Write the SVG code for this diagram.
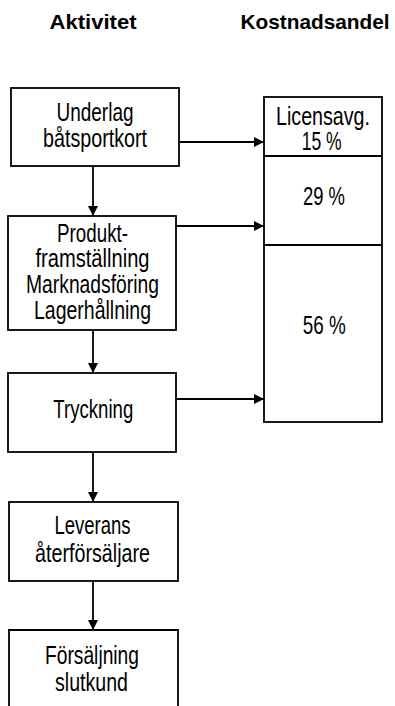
<svg xmlns="http://www.w3.org/2000/svg" width="395" height="706" viewBox="0 0 395 706">
  <defs>
    <marker id="arrow" viewBox="0 0 10 10" refX="10" refY="5" markerWidth="10" markerHeight="10" markerUnits="userSpaceOnUse" orient="auto">
      <path d="M0,0 L10,5 L0,10 Z" fill="#000"/>
    </marker>
    <style>
      .box { fill: #fff; stroke: #000; stroke-width: 1.8; }
      .t { font-family: "Liberation Sans Narrow", "Liberation Sans", Arial, sans-serif; font-size: 25px; fill: #000; text-anchor: middle; }
      .h { font-weight: bold; font-size: 21px; }
      .link { fill: none; stroke: #000; stroke-width: 1.8; marker-end: url(#arrow); }
    </style>
  </defs>

  <rect width="395" height="706" fill="#fff"/>

  <!-- column headings -->
  <g id="headings">
    <text class="t h" x="93" y="29" textLength="87" lengthAdjust="spacingAndGlyphs">Aktivitet</text>
    <text class="t h" x="315" y="29" textLength="149" lengthAdjust="spacingAndGlyphs">Kostnadsandel</text>
  </g>

  <!-- activity chain -->
  <g id="underlag">
    <rect class="box" x="11" y="88" width="168" height="78"/>
    <text class="t" x="95" y="120.5" textLength="77" lengthAdjust="spacingAndGlyphs">Underlag</text>
    <text class="t" x="95" y="146.5" textLength="104" lengthAdjust="spacingAndGlyphs">båtsportkort</text>
  </g>

  <g id="produkt">
    <rect class="box" x="8" y="216" width="168" height="114"/>
    <text class="t" x="92.5" y="241.5" textLength="71" lengthAdjust="spacingAndGlyphs">Produkt-</text>
    <text class="t" x="92.5" y="267" textLength="114" lengthAdjust="spacingAndGlyphs">framställning</text>
    <text class="t" x="92.5" y="293" textLength="133" lengthAdjust="spacingAndGlyphs">Marknadsföring</text>
    <text class="t" x="92.5" y="319" textLength="117" lengthAdjust="spacingAndGlyphs">Lagerhållning</text>
  </g>

  <g id="tryckning">
    <rect class="box" x="8" y="373" width="168" height="79"/>
    <text class="t" x="93.3" y="418" textLength="80" lengthAdjust="spacingAndGlyphs">Tryckning</text>
  </g>

  <g id="leverans">
    <rect class="box" x="9" y="502" width="169" height="79"/>
    <text class="t" x="92.5" y="534" textLength="76" lengthAdjust="spacingAndGlyphs">Leverans</text>
    <text class="t" x="92.5" y="562" textLength="115" lengthAdjust="spacingAndGlyphs">återförsäljare</text>
  </g>

  <g id="forsaljning">
    <path class="box" d="M9,707 V630 H178 V707"/>
    <text class="t" x="92" y="664" textLength="94" lengthAdjust="spacingAndGlyphs">Försäljning</text>
    <text class="t" x="91.5" y="691" textLength="73" lengthAdjust="spacingAndGlyphs">slutkund</text>
  </g>

  <!-- cost share column -->
  <g id="kostnad">
    <rect class="box" x="264" y="97" width="118" height="325"/>
    <line x1="264" y1="156" x2="382" y2="156" stroke="#000" stroke-width="1.8"/>
    <line x1="264" y1="245" x2="382" y2="245" stroke="#000" stroke-width="1.8"/>
    <text class="t" x="323" y="124.5" textLength="94" lengthAdjust="spacingAndGlyphs">Licensavg.</text>
    <text class="t" x="321.7" y="150" textLength="40" lengthAdjust="spacingAndGlyphs">15 %</text>
    <text class="t" x="324" y="205" textLength="42" lengthAdjust="spacingAndGlyphs">29 %</text>
    <text class="t" x="324.3" y="334" textLength="43" lengthAdjust="spacingAndGlyphs">56 %</text>
  </g>

  <!-- connectors -->
  <g id="connectors">
    <line class="link" x1="93" y1="166" x2="93" y2="216"/>
    <line class="link" x1="93" y1="330" x2="93" y2="373"/>
    <line class="link" x1="93" y1="452" x2="93" y2="502"/>
    <line class="link" x1="93" y1="581" x2="93" y2="630"/>
    <line class="link" x1="179" y1="142" x2="264" y2="142"/>
    <line class="link" x1="176" y1="226" x2="264" y2="226"/>
    <line class="link" x1="176" y1="399" x2="264" y2="399"/>
  </g>
</svg>
